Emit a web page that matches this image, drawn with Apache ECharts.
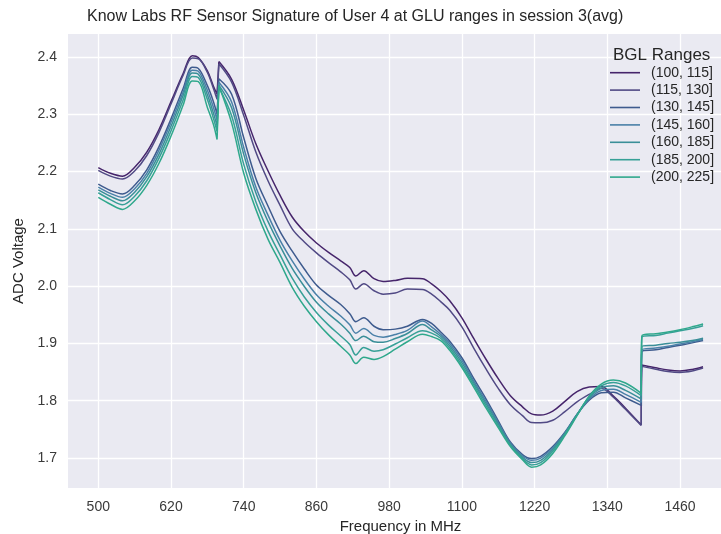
<!DOCTYPE html>
<html>
<head>
<meta charset="utf-8">
<script src="https://cdn.jsdelivr.net/npm/echarts@6/dist/echarts.min.js"></script>
<style>html,body{margin:0;padding:0;background:#fff}#c{width:721px;height:534px}</style>
</head>
<body>
<div id="c"></div>
<script>
const titleText = 'Know Labs RF Sensor Signature of User 4 at GLU ranges in session 3(avg)';
const legendTitle = 'BGL Ranges';
const seriesNames = ['(100, 115]', '(115, 130]', '(130, 145]', '(145, 160]', '(160, 185]', '(185, 200]', '(200, 225]'];
const xTicks = [500, 620, 740, 860, 980, 1100, 1220, 1340, 1460];
const xTickLabels = ['500', '620', '740', '860', '980', '1100', '1220', '1340', '1460'];
const yTicks = [1.7, 1.8, 1.9, 2.0, 2.1, 2.2, 2.3, 2.4];
const yTickLabels = ['1.7', '1.8', '1.9', '2.0', '2.1', '2.2', '2.3', '2.4'];
const breakAfter = [696, 699, 1396];

const freq = [500, 520, 540, 560, 580, 600, 620, 640, 655, 665, 680, 690, 696, 699, 720, 740, 760, 780, 800, 820, 840, 860, 880, 900, 915, 925, 938, 955, 970, 990, 1010, 1035, 1050, 1065, 1080, 1100, 1120, 1140, 1160, 1180, 1200, 1215, 1230, 1250, 1270, 1290, 1310, 1330, 1350, 1370, 1396, 1397, 1420, 1440, 1460, 1480, 1498];

const s100 = [2.207, 2.197, 2.192, 2.2075, 2.234, 2.273, 2.322, 2.371, 2.402, 2.399, 2.3757, 2.349, 2.335, 2.392, 2.361, 2.307, 2.2485, 2.2014, 2.1583, 2.1207, 2.0952, 2.0753, 2.0589, 2.0442, 2.0326, 2.0177, 2.027, 2.013, 2.008, 2.010, 2.0137, 2.013, 2.004, 1.991, 1.9745, 1.9448, 1.9078, 1.872, 1.8385, 1.8088, 1.7894, 1.777, 1.775, 1.782, 1.799, 1.816, 1.824, 1.825, 1.808, 1.787, 1.7577, 1.8624, 1.8575, 1.8537, 1.852, 1.8546, 1.8594];
const s115 = [2.202, 2.192, 2.187, 2.201, 2.228, 2.268, 2.318, 2.368, 2.398, 2.397, 2.373, 2.345, 2.326, 2.388, 2.356, 2.298, 2.234, 2.184, 2.141, 2.100, 2.077, 2.058, 2.041, 2.025, 2.011, 1.995, 2.004, 1.992, 1.986, 1.988, 1.995, 1.994, 1.986, 1.973, 1.958, 1.929, 1.891, 1.855, 1.8215, 1.793, 1.774, 1.762, 1.7615, 1.766, 1.781, 1.798, 1.811, 1.822, 1.806, 1.785, 1.757, 1.860, 1.855, 1.851, 1.8495, 1.852, 1.857];
const s130 = [2.178, 2.167, 2.161, 2.176, 2.203, 2.243, 2.292, 2.345, 2.382, 2.380, 2.350, 2.322, 2.300, 2.362, 2.335, 2.259, 2.188, 2.140, 2.095, 2.061, 2.030, 2.002, 1.984, 1.968, 1.952, 1.938, 1.945, 1.930, 1.924, 1.925, 1.930, 1.942, 1.935, 1.920, 1.904, 1.875, 1.838, 1.803, 1.765, 1.728, 1.706, 1.699, 1.703, 1.720, 1.745, 1.776, 1.801, 1.814, 1.815, 1.805, 1.792, 1.886, 1.889, 1.893, 1.897, 1.901, 1.905];
const s145 = [2.173, 2.162, 2.155, 2.170, 2.197, 2.237, 2.286, 2.339, 2.377, 2.375, 2.342, 2.312, 2.290, 2.356, 2.3215, 2.242, 2.173, 2.124, 2.080, 2.044, 2.0125, 1.985, 1.965, 1.948, 1.9326, 1.918, 1.926, 1.914, 1.911, 1.9155, 1.9227, 1.939, 1.929, 1.916, 1.900, 1.871, 1.834, 1.799, 1.762, 1.726, 1.704, 1.696, 1.700, 1.718, 1.744, 1.776, 1.803, 1.818, 1.820, 1.811, 1.797, 1.889, 1.892, 1.895, 1.899, 1.903, 1.907];
const s160 = [2.168, 2.157, 2.149, 2.164, 2.191, 2.230, 2.279, 2.333, 2.372, 2.370, 2.334, 2.302, 2.280, 2.351, 2.3115, 2.230, 2.163, 2.113, 2.070, 2.031, 1.9995, 1.972, 1.9516, 1.934, 1.918, 1.905, 1.9126, 1.903, 1.902, 1.9085, 1.9173, 1.933, 1.9235, 1.9125, 1.896, 1.8665, 1.8305, 1.795, 1.759, 1.724, 1.7015, 1.692, 1.696, 1.715, 1.743, 1.776, 1.805, 1.822, 1.826, 1.818, 1.803, 1.895, 1.897, 1.900, 1.902, 1.905, 1.909];
const s185 = [2.163, 2.151, 2.142, 2.157, 2.184, 2.223, 2.271, 2.325, 2.366, 2.364, 2.326, 2.293, 2.270, 2.347, 2.2975, 2.2125, 2.1475, 2.0965, 2.0545, 2.0138, 1.981, 1.954, 1.932, 1.913, 1.898, 1.880, 1.893, 1.8865, 1.889, 1.899, 1.910, 1.922, 1.918, 1.909, 1.892, 1.862, 1.827, 1.791, 1.756, 1.722, 1.699, 1.688, 1.692, 1.712, 1.741, 1.775, 1.807, 1.826, 1.832, 1.826, 1.809, 1.911, 1.914, 1.918, 1.922, 1.926, 1.931];
const s200 = [2.155, 2.143, 2.134, 2.149, 2.176, 2.214, 2.262, 2.316, 2.358, 2.357, 2.312, 2.282, 2.256, 2.350, 2.285, 2.197, 2.134, 2.082, 2.041, 1.998, 1.965, 1.938, 1.915, 1.895, 1.880, 1.865, 1.876, 1.872, 1.877, 1.890, 1.903, 1.916, 1.912, 1.905, 1.888, 1.858, 1.823, 1.787, 1.753, 1.720, 1.697, 1.684, 1.688, 1.708, 1.739, 1.774, 1.808, 1.829, 1.836, 1.831, 1.813, 1.913, 1.917, 1.920, 1.924, 1.929, 1.934];

const allSeries = [s100, s115, s130, s145, s160, s185, s200];
const colors = ['#46256b', '#514a85', '#3e5b8e', '#4a80a8', '#3a8f98', '#37a097', '#2fa88c'];

function buildData(vals) {
  const out = [];
  freq.forEach((f, i) => {
    out.push([f, vals[i]]);
    if (breakAfter.indexOf(f) >= 0) { out.push([f, null]); out.push([f, vals[i]]); }
  });
  return out;
}
function tickLabel(ticks, labels, v) {
  const k = ticks.findIndex(t => Math.abs(t - v) < 1e-6);
  return k >= 0 ? labels[k] : '';
}

const FONT = 'Liberation Sans';
const chart = echarts.init(document.getElementById('c'), null, {renderer: 'canvas'});
chart.setOption({
  animation: false,
  backgroundColor: '#ffffff',
  color: colors,
  textStyle: {fontFamily: FONT},
  title: [
    {text: titleText, left: 87, top: 9, padding: 0, textStyle: {fontFamily: FONT, fontSize: 16, fontWeight: 'normal', color: '#262626'}},
    {text: legendTitle, left: 613, top: 47, padding: 0, textStyle: {fontFamily: FONT, fontSize: 17, fontWeight: 'normal', color: '#262626'}}
  ],
  legend: {
    orient: 'vertical', left: 610, top: 64, padding: 0,
    icon: 'rect', itemWidth: 30, itemHeight: 1.6, itemGap: 0,
    textStyle: {fontFamily: FONT, fontSize: 14, lineHeight: 17.4, color: '#262626', padding: [0, 0, 0, 6]},
    data: seriesNames
  },
  grid: {left: 68, top: 34, right: 0, bottom: 46, show: true, backgroundColor: '#eaeaf2', borderWidth: 0,
    containLabel: false, outerBoundsMode: 'none'},
  xAxis: {
    type: 'value', min: 450, max: 1527.6,
    name: 'Frequency in MHz', nameLocation: 'middle', nameGap: 31,
    nameTextStyle: {fontFamily: FONT, fontSize: 15, color: '#262626', padding: [0, 0, 0, 12]},
    axisLine: {show: false},
    axisTick: {show: false, customValues: xTicks},
    axisLabel: {customValues: xTicks, fontFamily: FONT, fontSize: 14, color: '#3a3a3a', margin: 12,
      formatter: v => tickLabel(xTicks, xTickLabels, v)},
    splitLine: {show: true, lineStyle: {color: '#ffffff', width: 1.3}}
  },
  yAxis: {
    type: 'value', min: 1.6477, max: 2.4401,
    name: 'ADC Voltage', nameLocation: 'middle', nameGap: 34, nameRotate: 90,
    nameTextStyle: {fontFamily: FONT, fontSize: 15, color: '#262626'},
    axisLine: {show: false},
    axisTick: {show: false, customValues: yTicks},
    axisLabel: {customValues: yTicks, fontFamily: FONT, fontSize: 14, color: '#3a3a3a', margin: 11,
      formatter: v => tickLabel(yTicks, yTickLabels, v)},
    splitLine: {show: true, lineStyle: {color: '#ffffff', width: 1.3}}
  },
  series: allSeries.map((vals, i) => ({
    name: seriesNames[i], type: 'line', data: buildData(vals),
    symbol: 'none', smooth: 0.35, connectNulls: false,
    lineStyle: {width: 1.5, color: colors[i]}, itemStyle: {color: colors[i]}
  }))
});
</script>
</body>
</html>
